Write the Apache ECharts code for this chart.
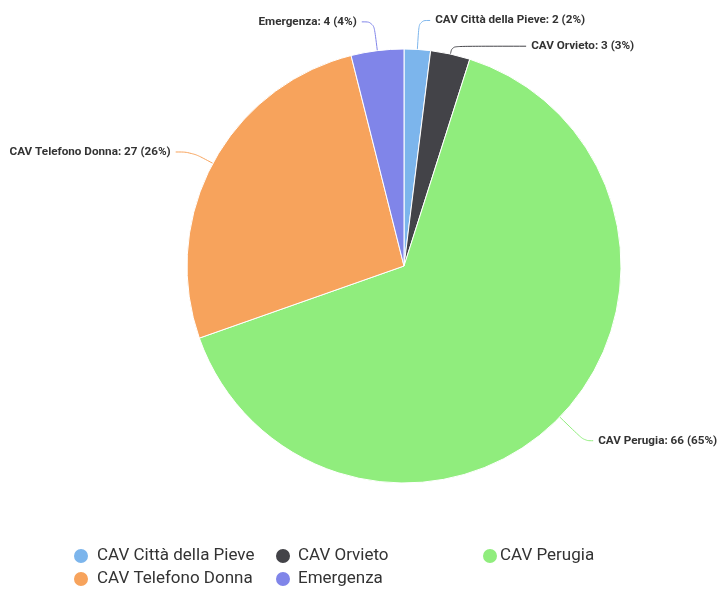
<!DOCTYPE html>
<html>
<head>
<meta charset="utf-8">
<script src="https://cdn.jsdelivr.net/npm/echarts@6/dist/echarts.min.js"></script>
<style>
  html, body { margin: 0; padding: 0; background: #fff; }
  #chart { width: 718px; height: 590px; }
</style>
</head>
<body>
<div id="chart"></div>
<script>
// dati
var categories = ["CAV Città della Pieve", "CAV Orvieto", "CAV Perugia", "CAV Telefono Donna", "Emergenza"];
var values = [2, 3, 66, 27, 4];
var colors = ["#7cb5ec", "#434348", "#90ed7d", "#f7a35c", "#8085e9"];

// lunghezze delle linee delle etichette, per fetta
var lineLen = [
  { length: 29, length2: 11 },
  { length: 8, length2: 74 },
  { length: 34, length2: 9 },
  { length: 24, length2: 16 },
  { length: 29, length2: 12 }
];

var pieData = categories.map(function (name, i) {
  return {
    name: name,
    value: values[i],
    labelLine: { length: lineLen[i].length, length2: lineLen[i].length2 }
  };
});

// legenda su due righe, tre colonne
var legendPos = [
  { left: 72, top: 547, pad: 3 },
  { left: 274, top: 547, pad: 2 },
  { left: 481, top: 547, pad: -3 },
  { left: 72, top: 570, pad: 3 },
  { left: 274, top: 570, pad: 2 }
];
var legends = categories.map(function (name, i) {
  return {
    data: [name],
    left: legendPos[i].left,
    top: legendPos[i].top,
    padding: 0,
    icon: "circle",
    itemWidth: 16,
    itemHeight: 16,
    itemGap: 0,
    textStyle: { fontFamily: "Roboto", fontSize: 17, color: "#333333", padding: [0, 0, 0, legendPos[i].pad] }
  };
});

var option = {
  color: colors,
  legend: legends,
  series: [
    {
      name: "CAV",
      type: "pie",
      center: [404, 266],
      radius: [0, 217],
      startAngle: 90,
      clockwise: true,
      percentPrecision: 0,
      avoidLabelOverlap: false,
      itemStyle: { borderColor: "#ffffff", borderWidth: 1 },
      label: {
        formatter: "{b}: {c} ({d}%)",
        fontFamily: "Roboto",
        fontSize: 11.7,
        fontWeight: "bold",
        color: "#333333",
        overflow: "none"
      },
      labelLine: {
        smooth: 0.4,
        lineStyle: { width: 1 }
      },
      emphasis: { scale: false },
      data: pieData
    }
  ]
};

var myChart = echarts.init(document.getElementById("chart"));
myChart.setOption(option);
</script>
</body>
</html>
